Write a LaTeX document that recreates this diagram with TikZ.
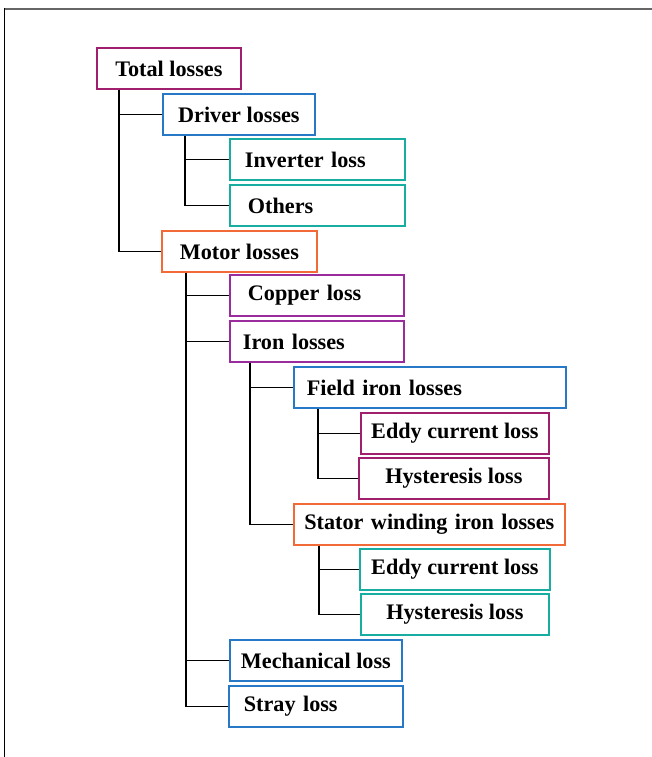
\documentclass[tikz,border=0pt]{standalone}
\usepackage{fontspec}
\setmainfont{Liberation Serif}
\usetikzlibrary{positioning}
\definecolor{lossmagenta}{RGB}{160,32,110}
\definecolor{lossblue}{RGB}{40,120,200}
\definecolor{lossteal}{RGB}{23,173,160}
\definecolor{lossorange}{RGB}{242,106,56}
\definecolor{losspurple}{RGB}{154,44,158}

\begin{document}
\begin{tikzpicture}[x=0.5pt,y=-0.5pt,line width=0.9pt,
  lossbox/.style={draw=#1,rectangle,anchor=north west,minimum height=20.5pt,inner ysep=0pt,
    font=\bfseries\fontsize{11.1}{13}\selectfont},
  mid/.style={minimum width=#1,inner xsep=1pt},
  lft/.style 2 args={text width=#1,inner xsep=#2,align=left},
  tree/.style={every edge/.style={draw=black,to path={|- (\tikztotarget)}}}]
  \useasboundingbox (0,0) rectangle (652,757);
  \draw[black!60,line width=1pt] (4,8.5) -- (652,8.5);
  \draw[black,line width=0.9pt] (4.5,8) -- (4.5,757);

  \node[lossbox=lossmagenta,mid=72pt]          (total)      at (96,47)   {Total losses};
  \node[lossbox=lossblue,mid=76pt]             (driver)     at (162,93)  {Driver losses};
  \node[lossbox=lossteal,lft={72.5pt}{7.5pt}]  (inverter)   at (229,138) {Inverter loss};
  \node[lossbox=lossteal,lft={69.5pt}{9pt}]    (others)     at (229,184) {Others};
  \node[lossbox=lossorange,mid=77.5pt]         (motor)      at (161,230) {Motor losses};
  \node[lossbox=losspurple,lft={69pt}{9pt}]    (copper)     at (229,274) {Copper loss};
  \node[lossbox=losspurple,lft={74pt}{6.5pt}]  (iron)       at (229,320) {Iron losses};
  \node[lossbox=lossblue,lft={123pt}{6.5pt}]   (field)      at (293,366) {Field iron losses};
  \node[lossbox=lossmagenta,mid=94pt]          (fieldeddy)  at (360,412) {Eddy current loss};
  \node[lossbox=lossmagenta,mid=95pt]          (fieldhyst)  at (358,457) {Hysteresis loss};
  \node[lossbox=lossorange,lft={125pt}{5.25pt}] (stator)    at (293,503) {Stator winding iron losses};
  \node[lossbox=lossteal,mid=95pt]             (statoreddy) at (359,548) {Eddy current loss};
  \node[lossbox=lossteal,mid=94pt]             (statorhyst) at (360,593) {Hysteresis loss};
  \node[lossbox=lossblue,mid=86pt]             (mech)       at (229,639) {Mechanical loss};
  \node[lossbox=lossblue,lft={72pt}{7.5pt}]    (stray)      at (228,685) {Stray loss};

  \path[tree] ([xshift=11.5pt]total.south west) edge (driver.west)
                                                edge (motor.west)
        ([xshift=11.5pt]driver.south west) edge (inverter.west)
                                           edge (others.west)
        ([xshift=12.5pt]motor.south west) edge (copper.west)
                                          edge (iron.west)
                                          edge (mech.west)
                                          edge (stray.west)
        ([xshift=10.5pt]iron.south west) edge (field.west)
                                         edge (stator.west)
        ([xshift=12.5pt]field.south west) edge (fieldeddy.west)
                                          edge (fieldhyst.west)
        ([xshift=13pt]stator.south west) edge (statoreddy.west)
                                         edge (statorhyst.west);
\end{tikzpicture}
\end{document}
